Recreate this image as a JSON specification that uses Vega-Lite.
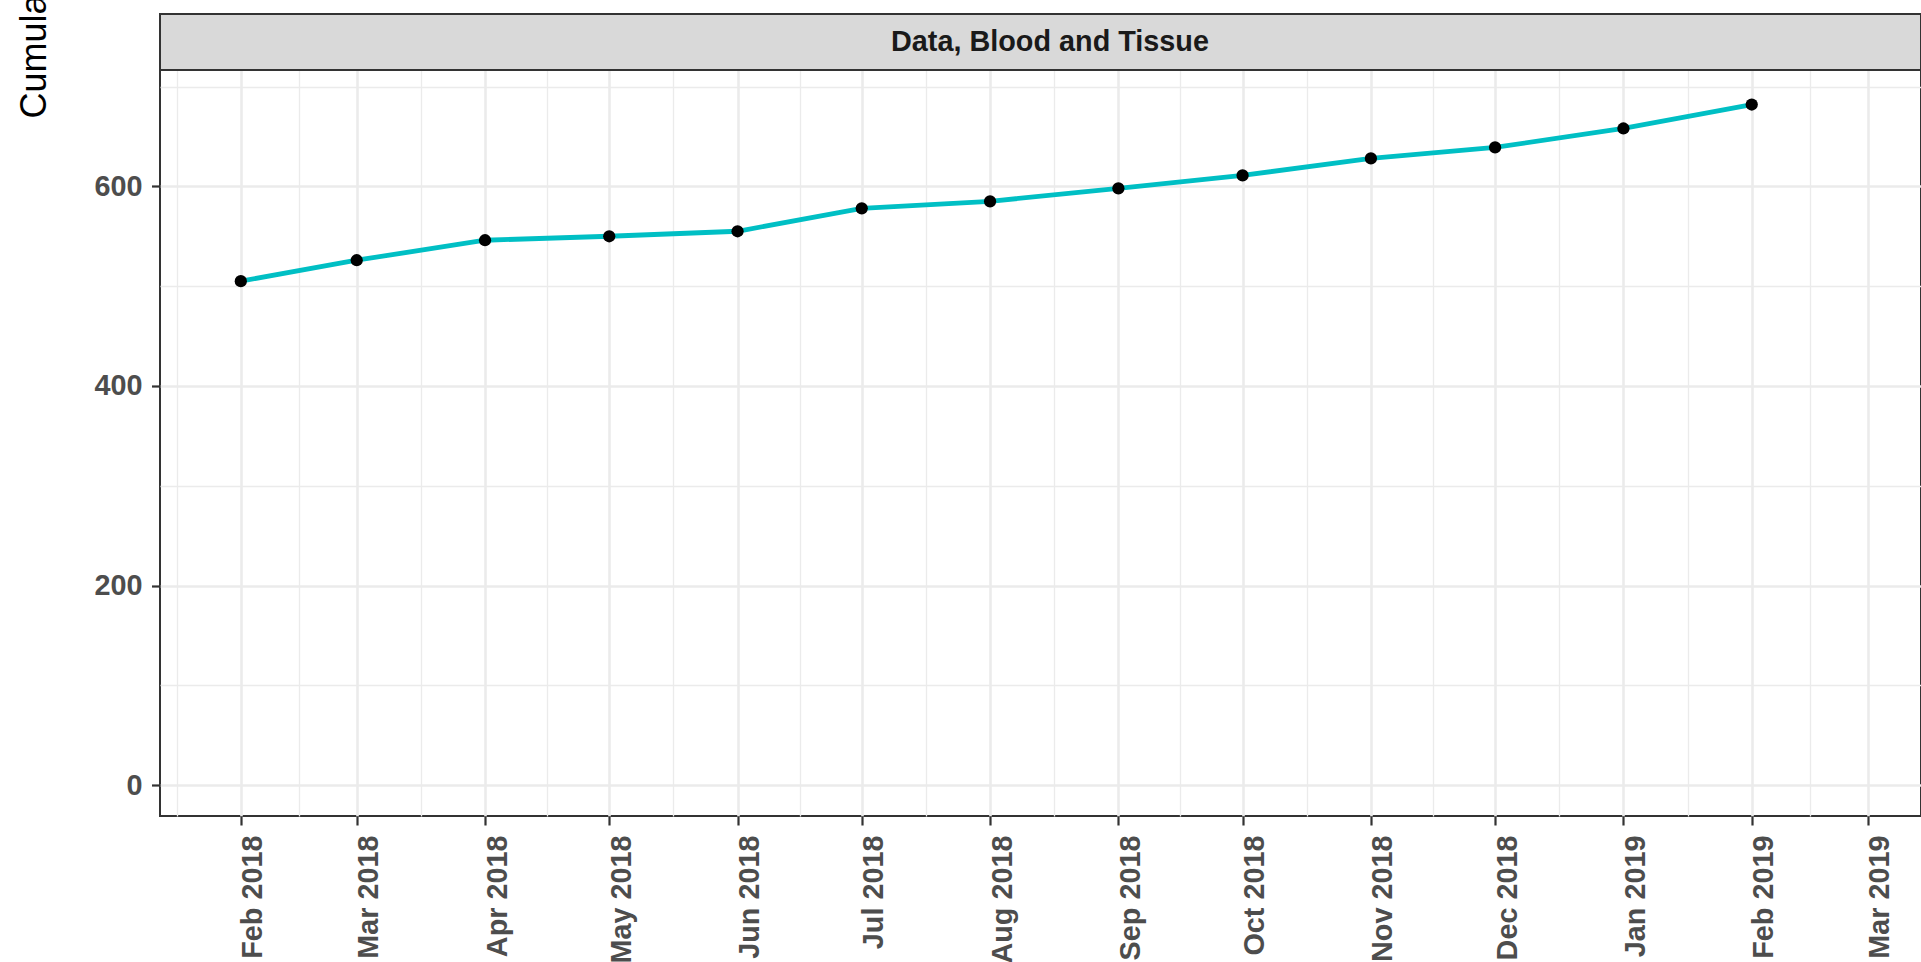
{
  "$schema": "https://vega.github.io/schema/vega-lite/v6.json",
  "autosize": {"type": "none"},
  "padding": {"left": 160, "top": 14, "right": 0, "bottom": 146},
  "width": 1761,
  "height": 802,
  "background": "white",
  "config": {
    "view": {"stroke": "#333333", "strokeWidth": 2},
    "font": "Liberation Sans"
  },
  "data": {
    "values": [
      {"panel": "Data, Blood and Tissue", "date": "2018-02-01", "count": 505},
      {"panel": "Data, Blood and Tissue", "date": "2018-03-01", "count": 526},
      {"panel": "Data, Blood and Tissue", "date": "2018-04-01", "count": 546},
      {"panel": "Data, Blood and Tissue", "date": "2018-05-01", "count": 550},
      {"panel": "Data, Blood and Tissue", "date": "2018-06-01", "count": 555},
      {"panel": "Data, Blood and Tissue", "date": "2018-07-01", "count": 578},
      {"panel": "Data, Blood and Tissue", "date": "2018-08-01", "count": 585},
      {"panel": "Data, Blood and Tissue", "date": "2018-09-01", "count": 598},
      {"panel": "Data, Blood and Tissue", "date": "2018-10-01", "count": 611},
      {"panel": "Data, Blood and Tissue", "date": "2018-11-01", "count": 628},
      {"panel": "Data, Blood and Tissue", "date": "2018-12-01", "count": 639},
      {"panel": "Data, Blood and Tissue", "date": "2019-01-01", "count": 658},
      {"panel": "Data, Blood and Tissue", "date": "2019-02-01", "count": 682}
    ]
  },
  "layer": [
    {
      "data": {"values": [{"panel": "Data, Blood and Tissue"}]},
      "mark": {"type": "rect", "fill": "#D9D9D9", "stroke": "#333333", "strokeWidth": 2},
      "encoding": {
        "y": {"datum": 716.6, "type": "quantitative", "axis": null},
        "y2": {"datum": 772.7}
      }
    },
    {
      "data": {"values": [{"panel": "Data, Blood and Tissue"}]},
      "mark": {"type": "text", "font": "Liberation Sans", "fontSize": 28.8, "fontWeight": "bold", "color": "#1A1A1A", "baseline": "middle", "align": "center", "dx": 9.5},
      "encoding": {
        "y": {"datum": 744.6, "type": "quantitative", "axis": null},
        "text": {"field": "panel", "type": "nominal"}
      }
    },
    {
      "mark": {"type": "line", "color": "#00BFC4", "strokeWidth": 4.8},
      "encoding": {
        "x": {
          "field": "date", "type": "temporal",
          "scale": {"type": "utc", "nice": false, "domain": [
            {"year": 2018, "month": 1, "date": 12, "hours": 11, "minutes": 30, "utc": true},
            {"year": 2019, "month": 3, "date": 13, "hours": 21, "minutes": 20, "utc": true}
          ]},
          "axis": {
            "orient": "bottom",
            "values": [
              {"year": 2018, "month": 2, "date": 1, "utc": true},
              {"year": 2018, "month": 3, "date": 1, "utc": true},
              {"year": 2018, "month": 4, "date": 1, "utc": true},
              {"year": 2018, "month": 5, "date": 1, "utc": true},
              {"year": 2018, "month": 6, "date": 1, "utc": true},
              {"year": 2018, "month": 7, "date": 1, "utc": true},
              {"year": 2018, "month": 8, "date": 1, "utc": true},
              {"year": 2018, "month": 9, "date": 1, "utc": true},
              {"year": 2018, "month": 10, "date": 1, "utc": true},
              {"year": 2018, "month": 11, "date": 1, "utc": true},
              {"year": 2018, "month": 12, "date": 1, "utc": true},
              {"year": 2019, "month": 1, "date": 1, "utc": true},
              {"year": 2019, "month": 2, "date": 1, "utc": true},
              {"year": 2019, "month": 3, "date": 1, "utc": true}
            ],
            "format": "%b %Y",
            "labelAngle": 270,
            "labelAlign": "right",
            "labelBaseline": "top",
            "labelOffset": -2,
            "labelFont": "Liberation Sans",
            "labelFontSize": 28.8,
            "labelFontWeight": "bold",
            "labelColor": "#4D4D4D",
            "labelPadding": 10,
            "labelOverlap": false,
            "labelFlush": false,
            "tickSize": 9,
            "tickWidth": 2.2,
            "tickColor": "#333333",
            "domain": false,
            "grid": true,
            "gridColor": "#EBEBEB",
            "gridWidth": 2.6,
            "title": null
          }
        },
        "y": {
          "field": "count", "type": "quantitative",
          "scale": {"domain": [-30.9, 772.7], "nice": false, "zero": false},
          "axis": {
            "orient": "left",
            "values": [0, 200, 400, 600],
            "labelFont": "Liberation Sans",
            "labelFontSize": 28.8,
            "labelFontWeight": "bold",
            "labelColor": "#4D4D4D",
            "labelPadding": 9.5,
            "labelFlush": false,
            "tickSize": 8.5,
            "tickWidth": 2.2,
            "tickColor": "#333333",
            "domain": false,
            "grid": true,
            "gridColor": "#EBEBEB",
            "gridWidth": 2.6,
            "title": "Cumulative number of applications",
            "titleFont": "Liberation Sans",
            "titleFontSize": 36,
            "titleFontWeight": "normal",
            "titleColor": "black",
            "titleAngle": 270,
            "titleAlign": "left",
            "titleBaseline": "alphabetic",
            "titleX": -115,
            "titleY": 104
          }
        }
      }
    },
    {
      "mark": {"type": "point", "filled": true, "color": "black", "opacity": 1, "size": 150},
      "encoding": {
        "x": {
          "field": "date", "type": "temporal",
          "axis": {
            "orient": "bottom",
            "values": [
              {"year": 2018, "month": 1, "date": 16, "hours": 12, "utc": true},
              {"year": 2018, "month": 2, "date": 15, "utc": true},
              {"year": 2018, "month": 3, "date": 16, "hours": 12, "utc": true},
              {"year": 2018, "month": 4, "date": 16, "utc": true},
              {"year": 2018, "month": 5, "date": 16, "hours": 12, "utc": true},
              {"year": 2018, "month": 6, "date": 16, "utc": true},
              {"year": 2018, "month": 7, "date": 16, "hours": 12, "utc": true},
              {"year": 2018, "month": 8, "date": 16, "hours": 12, "utc": true},
              {"year": 2018, "month": 9, "date": 16, "utc": true},
              {"year": 2018, "month": 10, "date": 16, "hours": 12, "utc": true},
              {"year": 2018, "month": 11, "date": 16, "utc": true},
              {"year": 2018, "month": 12, "date": 16, "hours": 12, "utc": true},
              {"year": 2019, "month": 1, "date": 16, "hours": 12, "utc": true},
              {"year": 2019, "month": 2, "date": 15, "utc": true}
            ],
            "labels": false,
            "ticks": false,
            "domain": false,
            "grid": true,
            "gridColor": "#EBEBEB",
            "gridWidth": 1.3,
            "title": null
          }
        },
        "y": {
          "field": "count", "type": "quantitative",
          "axis": {
            "orient": "left",
            "values": [100, 300, 500, 700],
            "labels": false,
            "ticks": false,
            "domain": false,
            "grid": true,
            "gridColor": "#EBEBEB",
            "gridWidth": 1.3,
            "title": null
          }
        }
      }
    }
  ],
  "resolve": {"axis": {"x": "independent", "y": "independent"}}
}
